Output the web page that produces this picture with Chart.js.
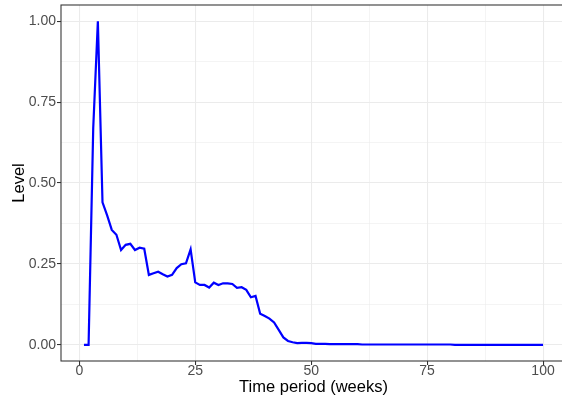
<!DOCTYPE html>
<html>
<head>
<meta charset="utf-8">
<script src="https://cdn.jsdelivr.net/npm/chart.js@4"></script>
<style>
  html, body { margin: 0; padding: 0; background: #fff; overflow: hidden; }
  #wrap { width: 562px; height: 402px; overflow: hidden; }
  canvas { display: block; }
</style>
</head>
<body>
<div id="wrap"><canvas id="chart" width="568" height="402"></canvas></div>
<script>
// weeks 1..100
const weeks = [
  1, 2, 3, 4, 5, 6, 7, 8, 9, 10, 11, 12, 13, 14, 15, 16, 17, 18, 19, 20,
  21, 22, 23, 24, 25, 26, 27, 28, 29, 30, 31, 32, 33, 34, 35, 36, 37, 38, 39, 40,
  41, 42, 43, 44, 45, 46, 47, 48, 49, 50, 51, 52, 53, 54, 55, 56, 57, 58, 59, 60,
  61, 62, 63, 64, 65, 66, 67, 68, 69, 70, 71, 72, 73, 74, 75, 76, 77, 78, 79, 80,
  81, 82, 83, 84, 85, 86, 87, 88, 89, 90, 91, 92, 93, 94, 95, 96, 97, 98, 99, 100
];

// level
const level = [
  0.000, 0.000, 0.670, 1.000, 0.440, 0.400, 0.355, 0.340, 0.293, 0.309,
  0.312, 0.293, 0.300, 0.297, 0.216, 0.221, 0.226, 0.218, 0.211, 0.216,
  0.237, 0.249, 0.252, 0.295, 0.193, 0.185, 0.185, 0.177, 0.192, 0.185,
  0.190, 0.190, 0.188, 0.176, 0.178, 0.170, 0.147, 0.151, 0.096, 0.089,
  0.081, 0.069, 0.046, 0.023, 0.012, 0.008, 0.005, 0.006, 0.006, 0.005,
  0.003, 0.003, 0.003, 0.002, 0.002, 0.002, 0.002, 0.002, 0.002, 0.002,
  0.001, 0.001, 0.001, 0.001, 0.001, 0.001, 0.001, 0.001, 0.001, 0.001,
  0.001, 0.001, 0.001, 0.001, 0.001, 0.001, 0.001, 0.001, 0.001, 0.001,
  0.000, 0.000, 0.000, 0.000, 0.000, 0.000, 0.000, 0.000, 0.000, 0.000,
  0.000, 0.000, 0.000, 0.000, 0.000, 0.000, 0.000, 0.000, 0.000, 0.000
];

const xMajor = [0, 25, 50, 75, 100];
const xMinor = [12.5, 37.5, 62.5, 87.5];
const yMajor = [0, 0.25, 0.5, 0.75, 1];
const yMinor = [0.125, 0.375, 0.625, 0.875];

const FONT = "'Liberation Sans', Arial, Helvetica, sans-serif";

function gridFor(major) {
  return {
    color: '#EBEBEB',
    lineWidth: c => major.includes(c.tick && c.tick.value) ? 1.07 : 0.53,
    drawTicks: true,
    tickLength: 4,
    tickWidth: 1.07,
    tickColor: c => major.includes(c.tick && c.tick.value) ? '#333333' : 'rgba(0,0,0,0)'
  };
}

// panel border like ggplot theme_bw
const panelBorder = {
  id: 'panelBorder',
  afterDraw(chart) {
    const { ctx, chartArea: a } = chart;
    ctx.save();
    ctx.strokeStyle = '#333333';
    ctx.lineWidth = 1.07;
    ctx.strokeRect(a.left, a.top, a.right - a.left, a.bottom - a.top);
    ctx.restore();
  }
};

new Chart(document.getElementById('chart'), {
  type: 'line',
  data: {
    datasets: [{
      data: weeks.map((w, i) => ({ x: w, y: level[i] })),
      borderColor: '#0000FF',
      borderWidth: 2.2,
      pointRadius: 0,
      tension: 0,
      fill: false
    }]
  },
  options: {
    responsive: false,
    animation: false,
    layout: { padding: { top: 5, right: 2, left: 0, bottom: 0 } },
    plugins: { legend: { display: false }, tooltip: { enabled: false } },
    scales: {
      x: {
        type: 'linear',
        min: -3.95,
        max: 104.95,
        afterBuildTicks: s => { s.ticks = [...xMajor, ...xMinor].sort((a, b) => a - b).map(v => ({ value: v })); },
        afterFit: s => { s.height = 41; s.paddingLeft = 0; s.paddingRight = 0; },
        grid: gridFor(xMajor),
        border: { display: false },
        ticks: {
          autoSkip: false,
          maxRotation: 0,
          padding: -2.5,
          color: '#4D4D4D',
          font: { family: FONT, size: 14 },
          callback: v => xMajor.includes(v) ? String(v) : ''
        },
        title: {
          display: true,
          text: 'Time period (weeks)',
          color: '#000000',
          font: { family: FONT, size: 16.5 },
          padding: { top: 0, bottom: 5 }
        }
      },
      y: {
        type: 'linear',
        min: -0.05,
        max: 1.05,
        afterBuildTicks: s => { s.ticks = [...yMajor, ...yMinor].sort((a, b) => a - b).map(v => ({ value: v })); },
        afterFit: s => { s.width = 61; s.paddingTop = 0; s.paddingBottom = 0; },
        grid: gridFor(yMajor),
        border: { display: false },
        ticks: {
          autoSkip: false,
          padding: 1,
          color: '#4D4D4D',
          font: { family: FONT, size: 14 },
          callback: v => yMajor.includes(v) ? v.toFixed(2) : ''
        },
        title: {
          display: true,
          text: 'Level',
          color: '#000000',
          font: { family: FONT, size: 16.5 },
          padding: { top: 10, bottom: 0 }
        }
      }
    }
  },
  plugins: [panelBorder]
});
</script>
</body>
</html>
